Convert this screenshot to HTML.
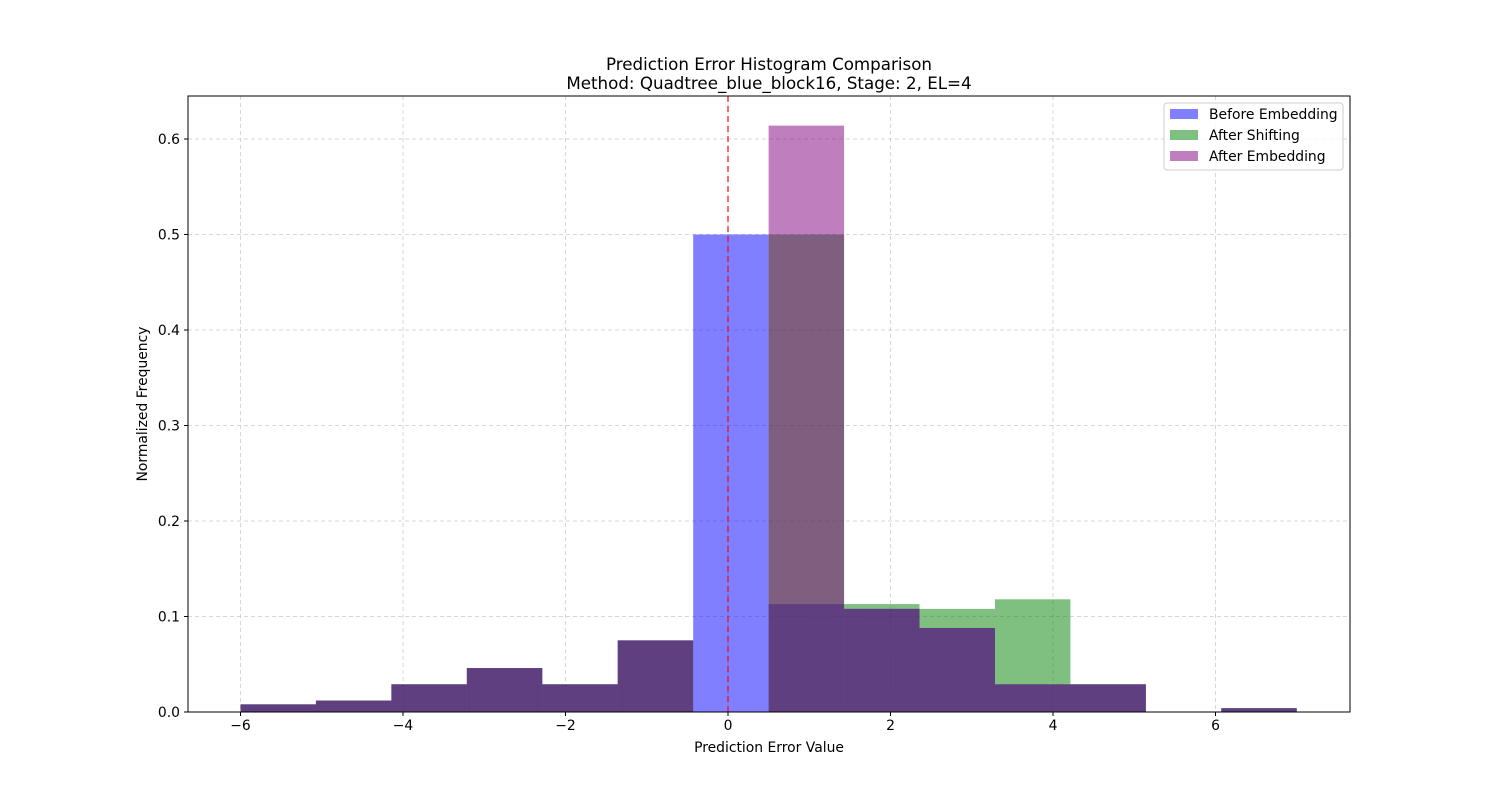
<!DOCTYPE html>
<html><head><meta charset="utf-8"><style>
body{margin:0;background:#fff;}
svg text{font-family:"DejaVu Sans","Liberation Sans",sans-serif;fill:#000;}
</style></head><body>
<svg id="chart" width="1500" height="800" xmlns="http://www.w3.org/2000/svg">
<rect width="1500" height="800" fill="#fff"/>
<g id="grid"></g>
<g id="bars"></g>
<g id="axes"></g>
</svg>
<script>
const binEdgesStart = -6;
const binEdgesEnd = 7;
const binCount = 14;
const beforeVals = [0.008,0.012,0.029,0.046,0.029,0.075,0.5,0.113,0.108,0.088,0.029,0.029,0,0.004];
const shiftedVals = [0.008,0.012,0.029,0.046,0.029,0.075,0,0.5,0.113,0.108,0.118,0.029,0,0.004];
const embeddedVals = [0.008,0.012,0.029,0.046,0.029,0.075,0,0.614,0.108,0.088,0.029,0.029,0,0.004];
const xTicks = [-6,-4,-2,0,2,4,6];
const yTicks = [0.0,0.1,0.2,0.3,0.4,0.5,0.6];
const seriesNames = ["Before Embedding","After Shifting","After Embedding"];

const L=188,R=1350,T=96,B=712;
const xs=v=>728+v*81.25;
const ys=v=>712-v*955;
const NS="http://www.w3.org/2000/svg";
function mk(tag,attrs,parent){const e=document.createElementNS(NS,tag);for(const k in attrs)e.setAttribute(k,attrs[k]);parent.appendChild(e);return e;}
const grid=document.getElementById('grid'),bars=document.getElementById('bars'),axes=document.getElementById('axes');
xTicks.forEach(t=>{const l=mk('line',{x1:xs(t),x2:xs(t),y1:T,y2:B,stroke:'#b0b0b0','stroke-opacity':0.5,'stroke-dasharray':'4,3'},grid);

});
yTicks.forEach(t=>{const l=mk('line',{x1:L,x2:R,y1:ys(t),y2:ys(t),stroke:'#b0b0b0','stroke-opacity':0.5,'stroke-dasharray':'4,3'},grid);

});
const w=(binEdgesEnd-binEdgesStart)/binCount;
const series=[[beforeVals,'#0000ff','before-embedding-bar'],[shiftedVals,'#008000','after-shifting-bar'],[embeddedVals,'#800080','after-embedding-bar']];
series.forEach(([vals,col,name])=>{vals.forEach((v,i)=>{if(v<=0)return;const x0=xs(binEdgesStart+i*w),x1=xs(binEdgesStart+(i+1)*w);
const r=mk('rect',{x:x0,y:ys(v),width:x1-x0,height:ys(0)-ys(v),fill:col,'fill-opacity':0.5},bars);

});});
const zl=mk('line',{x1:xs(0),x2:xs(0),y1:T,y2:B,stroke:'#ff0000','stroke-opacity':0.75,'stroke-width':1.5,'stroke-dasharray':'6,4'},bars);


const fr=mk('rect',{x:L,y:T,width:R-L,height:B-T,fill:'none',stroke:'#000','stroke-width':1},axes);


xTicks.forEach(t=>{mk('line',{x1:xs(t),x2:xs(t),y1:B,y2:B+4,stroke:'#000'},axes);
const tx=mk('text',{x:xs(t),y:B+18,'font-size':13.9,'text-anchor':'middle'},axes);tx.textContent=(t<0?'−'+(-t):t);

});
yTicks.forEach(t=>{mk('line',{x1:L-4,x2:L,y1:ys(t),y2:ys(t),stroke:'#000'},axes);
const tx=mk('text',{x:L-8,y:ys(t)+5,'font-size':13.9,'text-anchor':'end'},axes);tx.textContent=t.toFixed(1);

});
function txt(s,attrs,name){const t=mk('text',attrs,axes);t.textContent=s;

return t;}
txt('Prediction Error Histogram Comparison',{x:769,y:70,'font-size':16.7,'text-anchor':'middle'},'chart-title');
txt('Method: Quadtree_blue_block16, Stage: 2, EL=4',{x:769,y:89,'font-size':16.7,'text-anchor':'middle'},'chart-subtitle');
txt('Prediction Error Value',{x:769,y:752,'font-size':13.9,'text-anchor':'middle'},'x-axis-title');
txt('Normalized Frequency',{x:147,y:404,'font-size':13.9,'text-anchor':'middle',transform:'rotate(-90 147 404)'},'y-axis-title');
const lg=mk('g',{},axes);


mk('rect',{x:1164,y:103,width:179,height:67,rx:3,fill:'#fff','fill-opacity':0.8,stroke:'#ccc'},lg);
const lc=['#0000ff','#008000','#800080'];
seriesNames.forEach((n,i)=>{const y=114+i*21;
mk('rect',{x:1170,y:y-5,width:28,height:10,fill:lc[i],'fill-opacity':0.5},lg);
const t=mk('text',{x:1209,y:y+5,'font-size':13.9},lg);t.textContent=n;

});
</script>
</body></html>
